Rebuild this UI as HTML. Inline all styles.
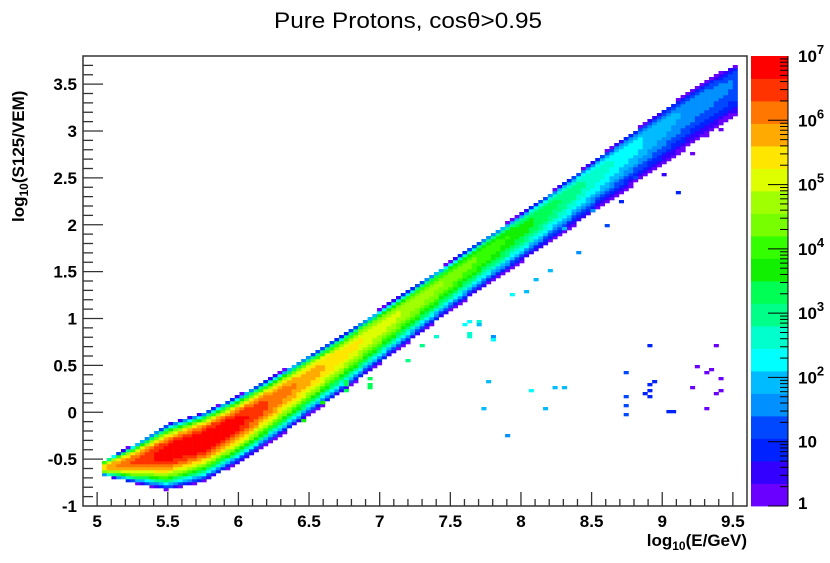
<!DOCTYPE html>
<html><head><meta charset="utf-8"><style>
html,body{margin:0;padding:0;background:#fff;}
svg{display:block;font-family:"Liberation Sans",sans-serif;}
</style></head><body>
<svg id="chart" width="830" height="563" viewBox="0 0 830 563">
<rect width="830" height="563" fill="#fff"/>
<text x="408" y="28" font-size="22" text-anchor="middle" textLength="268" lengthAdjust="spacingAndGlyphs">Pure Protons, cosθ&gt;0.95</text>
<g id="cells"></g>
<g id="axes"></g>
<rect x="83" y="56" width="664" height="450" fill="none" stroke="#333" stroke-width="1.5"/>
<text transform="translate(24,222) rotate(-90)" font-size="17" font-weight="bold">log<tspan font-size="12" dy="4">10</tspan><tspan dy="-4">(S125/VEM)</tspan></text>
<text x="747" y="546" font-size="17" font-weight="bold" text-anchor="end">log<tspan font-size="12" dy="4">10</tspan><tspan dy="-4">(E/GeV)</tspan></text>
<g id="palette"></g>
</svg>
<script>
// column parameter nodes (log10 E)
const nodeX = [5.0,5.25,5.5,5.75,6.0,6.25,6.5,6.75,7.0,7.25,7.5,7.75,8.0,8.25,8.5,8.75,9.0,9.25,9.5];
const ridgeY = [-0.6,-0.55,-0.45,-0.32,-0.12,0.12,0.37,0.63,0.9,1.17,1.44,1.7,1.95,2.22,2.5,2.78,3.05,3.3,3.5];
const peakLog = [5.5,6.3,6.9,7.0,6.8,6.2,5.8,5.4,5.1,4.8,4.5,4.1,3.7,3.2,2.7,2.3,1.9,1.6,1.4];
const widthUp = [0.05,0.2,0.33,0.32,0.3,0.27,0.24,0.21,0.2,0.18,0.17,0.17,0.17,0.17,0.17,0.17,0.17,0.18,0.2];
const widthDown = [0.06,0.2,0.38,0.42,0.42,0.42,0.4,0.4,0.38,0.37,0.36,0.35,0.35,0.36,0.38,0.4,0.42,0.4,0.35];
// isolated outlier cells: x, y, log10(count)
const outX = [8.92,9.39,8.76,9.26,9.36,9.33,9.42,8.95,8.92,9.2,8.92,8.89,9.42,9.39,8.73,8.92,8.76,9.05,9.08,9.3,8.76,7.77,7.73,8.08,8.23,8.32,8.17,7.92,7.64,7.70,7.70,7.64,7.64,7.8,7.8,7.8,6.76,6.76,6.76,6.92,6.92,6.92,6.6,6.45,8.6,8.7,8.8,9.0,9.1,9.2,8.4,8.3,8.5,8.2,9.3,9.4,8.1,7.95,8.05,7.6,7.4,7.3,7.2];
const outY = [0.71,0.71,0.42,0.49,0.45,0.42,0.36,0.33,0.29,0.26,0.23,0.2,0.23,0.2,0.17,0.17,0.07,0.0,0.0,0.04,-0.03,0.33,0.04,0.23,0.26,0.26,0.04,-0.25,0.96,0.98,0.94,0.84,0.81,0.82,0.79,0.76,0.34,0.28,0.22,0.36,0.3,0.26,0.1,-0.1,2.0,2.25,2.5,2.55,2.35,2.75,1.7,1.95,2.15,1.5,2.95,3.0,1.4,1.25,1.3,0.95,0.8,0.7,0.55];
const outL = [1,0.2,1.3,0.2,0.2,0.2,0.2,1,1,0.2,1,1,0.2,0.2,1.3,1,1.3,0.8,0.8,0.2,1.3,2.0,1.8,2.3,2.0,2.0,1.8,1.6,2.3,2.5,1.8,2.5,2.5,1.6,2.0,2.4,3.4,3.3,3.4,3.3,3.2,3.3,3.5,3.6,1.3,1.0,1.2,0.5,0.8,0.3,1.6,1.8,1.4,1.8,0.3,0.3,2.0,2.2,2.0,2.3,2.6,2.8,3.0];
const colors = ["#6a00ff","#3300ff","#0022ff","#0048ff","#0090ff","#00bbff","#00ffff","#00ffcc","#00ff88","#00ff55","#10f000","#33ff00","#77ff00","#a0ff00","#ddff00","#ffe600","#ffaa00","#ff7700","#ff3300","#ff0000"];
const xTicks = ["5","5.5","6","6.5","7","7.5","8","8.5","9","9.5"];
const yTicks = ["-1","-0.5","0","0.5","1","1.5","2","2.5","3","3.5"];

const NS="http://www.w3.org/2000/svg";
const X0=83,X1=747,Y0=506,Y1=56, xmin=4.9,xmax=9.6,ymin=-1,ymax=3.8;
const sx=v=>X0+(v-xmin)/(xmax-xmin)*(X1-X0);
const sy=v=>Y0-(v-ymin)/(ymax-ymin)*(Y0-Y1);
const NX=140,NY=150,bw=(xmax-xmin)/NX,bh=(ymax-ymin)/NY;
const colorOf=L=>colors[Math.max(0,Math.min(19,Math.floor(L/0.35)))];
function interp(arr,x){
  if(x<=nodeX[0])return arr[0];
  for(let k=0;k<nodeX.length-1;k++){if(x<=nodeX[k+1]){const t=(x-nodeX[k])/(nodeX[k+1]-nodeX[k]);return arr[k]+t*(arr[k+1]-arr[k]);}}
  return arr[arr.length-1];
}
function mk(tag,at,parent){const e=document.createElementNS(NS,tag);for(const k in at)e.setAttribute(k,at[k]);parent.appendChild(e);return e;}
const cells=document.getElementById('cells');
function cell(xb,yb,L){
  const r=mk('rect',{x:sx(xmin+xb*bw).toFixed(2),y:sy(ymin+(yb+1)*bh).toFixed(2),width:(sx(bw)-sx(0)+0.3).toFixed(2),height:(sy(0)-sy(bh)+0.3).toFixed(2),fill:colorOf(L)},cells);
  
  
}
for(let i=0;i<NX;i++){
  const xc=xmin+(i+0.5)*bw; if(xc<5.03||xc>9.53)continue;
  const c=interp(ridgeY,xc),p=interp(peakLog,xc),wu=interp(widthUp,xc),wd=interp(widthDown,xc);
  for(let j=0;j<NY;j++){
    const yc=ymin+(j+0.5)*bh,d=yc-c;
    const r=d>0?Math.pow(d/wu,3):(d/wd)*(d/wd);
    const L=p*(1-r);
    if(L>=0)cell(i,j,L);
  }
}
for(let k=0;k<outX.length;k++){cell(Math.floor((outX[k]-xmin)/bw),Math.floor((outY[k]-ymin)/bh),outL[k]);}

const axes=document.getElementById('axes');
for(let v=5;v<=9.55;v+=0.1){
  const major=Math.abs(v*2-Math.round(v*2))<0.01;
  const t=mk('line',{x1:sx(v),x2:sx(v),y1:Y0,y2:Y0-(major?14:7),stroke:'#333','stroke-width':1.3},axes);
  
}
for(let v=-0.9;v<=3.75;v+=0.1){
  const major=Math.abs(v*2-Math.round(v*2))<0.01;
  const t=mk('line',{x1:X0,x2:X0+(major?20:10),y1:sy(v),y2:sy(v),stroke:'#333','stroke-width':1.3},axes);
  
}
xTicks.forEach(s=>{const t=mk('text',{x:sx(+s),y:527,'font-size':17,'font-weight':'bold','text-anchor':'middle'},axes);t.textContent=s;
  });
yTicks.forEach(s=>{const t=mk('text',{x:77,y:sy(+s)+6,'font-size':17,'font-weight':'bold','text-anchor':'end'},axes);t.textContent=s;
  });

const pal=document.getElementById('palette');
const PX0=751,PX1=788,PT=56,PB=506,bandH=(PB-PT)/20;
colors.forEach((c,k)=>{const r=mk('rect',{x:PX0,y:PB-(k+1)*bandH,width:PX1-PX0,height:bandH+0.4,fill:c},pal);
  });
mk('line',{x1:PX1,x2:PX1,y1:PT,y2:PB,stroke:'#000','stroke-width':1},pal);
const dec=(PB-PT)/7;
for(let d=0;d<7;d++)for(let m=1;m<10;m++){
  const y=PB-(d+Math.log10(m))*dec;
  const l=mk('line',{x1:PX1,x2:PX1-(m==1?20:8),y1:y,y2:y,stroke:'#000','stroke-width':1},pal);
  
}
const palLabels=["1","10","10<tspan dy='-8' font-size='13'>2</tspan>","10<tspan dy='-8' font-size='13'>3</tspan>","10<tspan dy='-8' font-size='13'>4</tspan>","10<tspan dy='-8' font-size='13'>5</tspan>","10<tspan dy='-8' font-size='13'>6</tspan>","10<tspan dy='-8' font-size='13'>7</tspan>"];
palLabels.forEach((s,d)=>{const t=mk('text',{x:798,y:PB-d*dec+(d==0?3:6),'font-size':17,'font-weight':'bold'},pal);t.innerHTML=s;
  });
</script>
</body></html>
